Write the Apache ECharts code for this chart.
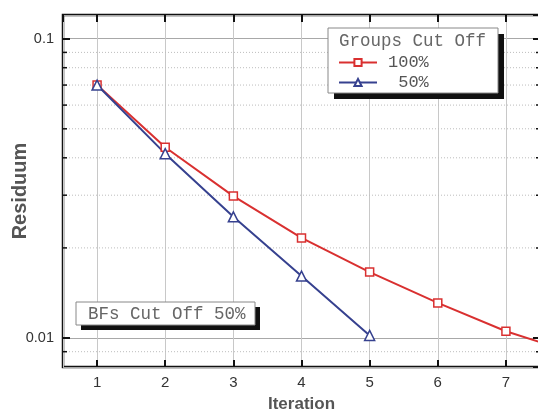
<!DOCTYPE html>
<html>
<head>
<meta charset="utf-8">
<script src="https://cdn.jsdelivr.net/npm/echarts@6/dist/echarts.min.js"></script>
<style>html,body{margin:0;padding:0;background:#fff;}#c{width:538px;height:412px;}</style>
</head>
<body>
<div id="c"></div>
<script>
var iterations = [1, 2, 3, 4, 5, 6, 7, 8];
var groups100 = [0.070, 0.0434, 0.0298, 0.0216, 0.0166, 0.0131, 0.01053, 0.0089];
var groups50 = [0.070, 0.0413, 0.0254, 0.0161, 0.0102];
var minorValues = [0.009, 0.02, 0.03, 0.04, 0.05, 0.06, 0.07, 0.08, 0.09];
var xRange = [0.5, 7.5];
var yRange = [0.008, 0.12];
var legendTitle = 'Groups Cut Off';
var boxText = 'BFs Cut Off 50%';

var RED = '#d93030', BLUE = '#36418f';
var mono = '"Liberation Mono", "DejaVu Sans Mono", monospace';
var sans = '"Liberation Sans", Arial, sans-serif';

function pairs(xs, ys) { return ys.map(function (v, i) { return [xs[i], v]; }); }

var chart = echarts.init(document.getElementById('c'));
var common = { min: xRange[0], max: xRange[1], splitNumber: 7 };
chart.setOption({
  animation: false,
  grid: { left: 63, top: 15, width: 477, height: 352, containLabel: false, outerBoundsMode: 'none',
    show: true, borderColor: '#111', borderWidth: 2.5, backgroundColor: 'transparent' },
  xAxis: [
    Object.assign({ type: 'value', position: 'bottom', name: 'Iteration', nameLocation: 'middle', nameGap: 37,
      nameMoveOverlap: false,
      nameTextStyle: { fontFamily: sans, fontSize: 17, fontWeight: 'bold', color: '#555', verticalAlign: 'middle' },
      axisLine: { show: false },
      axisTick: { inside: true, length: 7, lineStyle: { color: '#111', width: 2 } },
      axisLabel: { showMinLabel: false, showMaxLabel: false, fontFamily: sans, fontSize: 15, color: '#333', margin: 8 },
      splitLine: { show: true, lineStyle: { color: '#c8c8c8', width: 1 } } }, common),
    Object.assign({ type: 'value', position: 'top',
      axisLine: { show: false },
      axisTick: { inside: true, length: 7, lineStyle: { color: '#111', width: 2 } },
      axisLabel: { show: false }, splitLine: { show: false } }, common)
  ],
  yAxis: [
    { type: 'log', logBase: 10, min: yRange[0], max: yRange[1], position: 'left',
      name: 'Residuum', nameLocation: 'middle', nameGap: 43, nameRotate: 90, nameMoveOverlap: false,
      nameTextStyle: { fontFamily: sans, fontSize: 20, fontWeight: 'bold', color: '#555', verticalAlign: 'middle' },
      axisLine: { show: false },
      axisTick: { inside: true, length: 7, lineStyle: { color: '#111', width: 2 } },
      axisLabel: { showMinLabel: false, showMaxLabel: false, fontFamily: sans, fontSize: 14.5, color: '#333', margin: 9 },
      splitLine: { show: true, lineStyle: { color: '#a8a8a8', width: 1 } } },
    { type: 'log', logBase: 10, min: yRange[0], max: yRange[1], position: 'right',
      axisLine: { show: false },
      axisTick: { inside: true, length: 7, lineStyle: { color: '#111', width: 2 } },
      axisLabel: { show: false }, splitLine: { show: false } }
  ],
  legend: {
    orient: 'vertical', left: 333, top: 49, z: 10,
    itemWidth: 38, itemHeight: 9, itemGap: 3,
    textStyle: { fontFamily: mono, fontSize: 17, lineHeight: 17, color: '#555', padding: [0, 0, 0, 6] },
    data: ['100%', ' 50%']
  },
  graphic: [
    { type: 'rect', z: 5, shape: { x: 334, y: 34, width: 170, height: 65 }, style: { fill: '#111' } },
    { type: 'rect', z: 6, shape: { x: 328, y: 28, width: 170, height: 65 }, style: { fill: '#fff', stroke: '#888', lineWidth: 1 } },
    { type: 'text', z: 7, left: 339, top: 32, style: { text: legendTitle, font: '17.5px ' + mono, fill: '#666' } },
    { type: 'rect', z: 5, shape: { x: 81, y: 307, width: 179, height: 23 }, style: { fill: '#111' } },
    { type: 'rect', z: 6, shape: { x: 76, y: 302, width: 179, height: 23 }, style: { fill: '#fff', stroke: '#888', lineWidth: 1 } },
    { type: 'text', z: 7, left: 88, top: 305, style: { text: boxText, font: '17.5px ' + mono, fill: '#666' } }
  ],
  series: [
    { type: 'custom', silent: true, z: 1, clip: true,
      data: minorValues.map(function (v) { return [1, v]; }),
      renderItem: function (params, api) {
        var cs = params.coordSys;
        var y = api.coord([1, api.value(1)])[1];
        return { type: 'group', children: [
          { type: 'line', shape: { x1: cs.x, y1: y, x2: cs.x + cs.width, y2: y }, style: { stroke: '#bdbdbd', lineWidth: 1, lineDash: [1, 2] } },
          { type: 'line', shape: { x1: cs.x, y1: y, x2: cs.x + 4, y2: y }, style: { stroke: '#111', lineWidth: 1.5 } },
          { type: 'line', shape: { x1: cs.x + cs.width - 4, y1: y, x2: cs.x + cs.width, y2: y }, style: { stroke: '#111', lineWidth: 1.5 } }
        ] };
      }
    },
    { name: '100%', type: 'line', data: pairs(iterations, groups100), clip: true, z: 3,
      symbol: 'rect', symbolSize: 8, showAllSymbol: true,
      lineStyle: { color: RED, width: 2 }, itemStyle: { color: '#fff', borderColor: RED, borderWidth: 1.5 } },
    { name: ' 50%', type: 'line', data: pairs(iterations, groups50), clip: true, z: 3,
      symbol: 'triangle', symbolSize: 10, showAllSymbol: true,
      lineStyle: { color: BLUE, width: 2 }, itemStyle: { color: '#fff', borderColor: BLUE, borderWidth: 1.5 } }
  ]
});
</script>
</body>
</html>
